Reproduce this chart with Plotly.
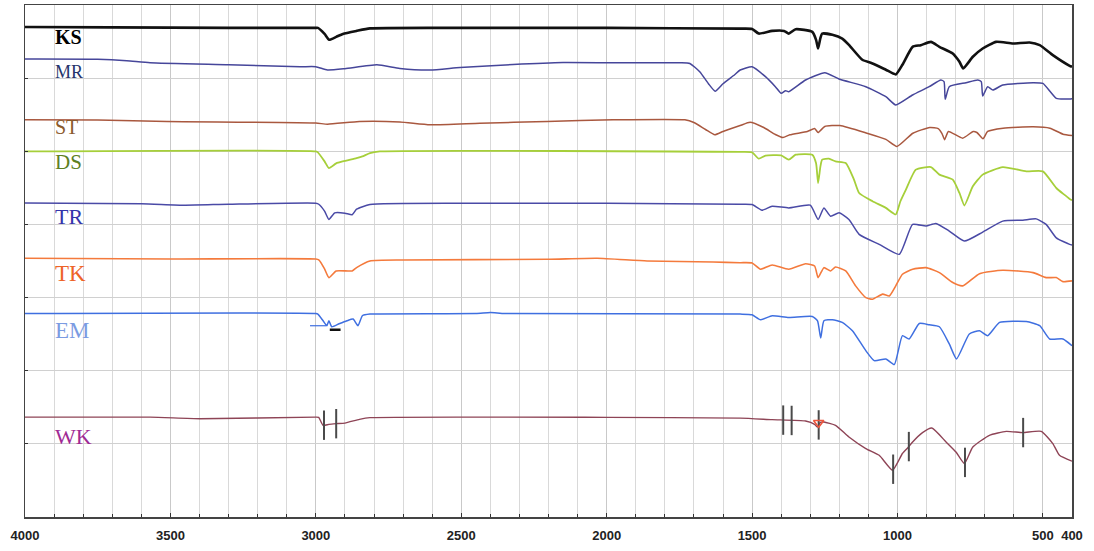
import numpy as np
import plotly.graph_objects as go

# ---- data (wavenumber cm-1, stacked transmittance in arbitrary units) ----
ks_wn = [4000, 3700, 3300, 3000, 2993, 2970, 2954, 2930, 2907, 2860, 2814, 2500, 2000, 1541, 1500, 1477, 1431, 1390, 1374, 1350, 1293, 1280, 1273, 1265, 1259, 1224, 1190, 1167, 1121, 1086, 1040, 1006, 983, 948, 920, 885, 856, 810, 787, 774, 741, 707, 661, 603, 546, 511, 466, 408, 400]
ks_val = [67.0, 66.94, 66.87, 66.87, 66.87, 66.05, 65.24, 65.64, 66.05, 66.46, 66.80, 66.87, 66.87, 66.77, 66.73, 66.09, 66.46, 66.46, 66.09, 66.69, 66.33, 65.24, 64.05, 65.51, 66.09, 65.92, 65.41, 64.55, 62.51, 62.01, 61.15, 60.51, 61.83, 64.28, 64.51, 64.96, 64.28, 63.37, 62.24, 61.33, 62.92, 64.05, 64.96, 64.73, 64.87, 64.51, 63.15, 61.69, 61.56]

mr_wn = [4000, 3750, 3650, 3570, 3300, 3054, 3000, 2960, 2900, 2790, 2711, 2607, 2504, 2322, 2150, 1978, 1748, 1714, 1680, 1650, 1627, 1600, 1560, 1541, 1500, 1454, 1420, 1400, 1385, 1374, 1316, 1250, 1201, 1109, 1040, 1006, 948, 891, 851, 840, 836, 822, 764, 724, 712, 707, 690, 672, 638, 534, 500, 454, 408, 400]
mr_val = [62.61, 62.58, 62.38, 62.10, 61.83, 61.56, 61.56, 61.11, 61.29, 61.83, 61.33, 61.11, 61.46, 61.87, 62.14, 62.10, 62.10, 62.01, 60.88, 59.24, 58.22, 59.24, 60.47, 61.11, 61.56, 60.20, 58.83, 57.92, 58.29, 58.15, 59.75, 60.74, 59.88, 58.83, 57.47, 56.34, 57.70, 58.83, 59.75, 59.52, 57.10, 58.83, 59.38, 59.75, 59.52, 57.57, 58.83, 58.38, 59.07, 59.38, 59.28, 57.24, 57.16, 57.20]

st_wn = [4000, 3750, 3512, 3000, 2960, 2850, 2711, 2607, 2436, 2205, 1978, 1731, 1700, 1660, 1628, 1600, 1541, 1507, 1460, 1420, 1394, 1370, 1310, 1285, 1273, 1250, 1198, 1105, 1040, 1002, 947, 889, 860, 847, 838, 825, 776, 740, 727, 706, 690, 637, 534, 476, 431, 400]
st_val = [54.30, 54.27, 54.07, 53.86, 53.70, 54.07, 54.00, 53.62, 53.84, 54.07, 54.30, 54.30, 53.93, 52.98, 52.26, 52.71, 53.52, 53.97, 53.25, 52.30, 51.89, 52.26, 52.71, 53.11, 52.57, 53.39, 53.52, 52.47, 51.62, 50.66, 52.47, 53.25, 53.11, 52.43, 51.58, 52.71, 51.79, 52.71, 52.57, 51.71, 52.71, 53.16, 53.35, 53.16, 52.34, 52.16]

ds_wn = [4000, 3000, 2993, 2970, 2955, 2930, 2907, 2860, 2840, 2814, 2780, 1541, 1500, 1477, 1454, 1400, 1374, 1350, 1293, 1280, 1273, 1265, 1259, 1236, 1213, 1178, 1150, 1132, 1086, 1040, 1006, 990, 971, 937, 885, 856, 810, 787, 770, 741, 707, 638, 557, 500, 454, 408, 400]
ds_val = [49.98, 49.98, 49.85, 48.62, 47.71, 48.35, 48.62, 49.07, 49.30, 49.75, 49.98, 49.91, 49.85, 48.99, 49.40, 49.44, 48.85, 49.53, 49.53, 48.35, 45.66, 47.94, 48.85, 48.99, 48.62, 48.39, 46.17, 44.30, 43.17, 42.26, 41.36, 43.17, 44.77, 47.49, 47.84, 46.81, 46.13, 44.30, 42.59, 45.21, 46.81, 47.84, 47.26, 47.26, 44.98, 43.49, 43.31]

tr_wn = [4000, 3600, 3450, 3300, 3000, 2990, 2970, 2955, 2935, 2900, 2875, 2860, 2814, 2500, 2000, 1541, 1500, 1466, 1431, 1374, 1300, 1273, 1253, 1230, 1201, 1167, 1132, 1063, 994, 948, 902, 868, 822, 770, 707, 638, 569, 523, 489, 454, 408, 400]
tr_val = [42.94, 42.83, 42.63, 42.76, 42.90, 42.76, 41.81, 40.68, 41.58, 41.54, 41.33, 42.08, 42.72, 42.90, 42.90, 42.76, 42.72, 41.95, 42.49, 42.26, 42.63, 40.68, 42.26, 41.13, 41.58, 40.68, 38.64, 37.27, 35.91, 40.00, 39.77, 40.14, 39.09, 37.72, 38.95, 40.45, 40.58, 40.76, 40.00, 38.17, 37.27, 37.18]

tk_wn = [4000, 3500, 3000, 2990, 2970, 2955, 2930, 2875, 2860, 2814, 2700, 2205, 2033, 1861, 1634, 1541, 1500, 1471, 1431, 1374, 1316, 1285, 1273, 1253, 1230, 1213, 1178, 1144, 1109, 1086, 1051, 1028, 1006, 983, 948, 902, 856, 810, 776, 718, 638, 534, 489, 454, 431, 400]
tk_val = [35.37, 35.27, 35.27, 35.14, 33.91, 32.73, 33.64, 33.64, 34.09, 35.00, 35.14, 35.23, 35.37, 35.00, 34.86, 34.77, 34.73, 33.87, 34.46, 33.87, 34.63, 34.32, 32.73, 34.09, 33.64, 34.18, 33.64, 31.60, 30.00, 29.78, 30.47, 30.23, 31.60, 33.19, 33.87, 34.09, 33.41, 32.05, 31.60, 33.27, 33.73, 33.41, 32.73, 32.73, 32.18, 32.28]

em_wn = [4000, 3000, 2993, 2975, 2962, 2955, 2945, 2920, 2893, 2872, 2855, 2840, 2814, 2450, 2400, 2350, 1541, 1500, 1471, 1431, 1374, 1293, 1275, 1264, 1253, 1224, 1190, 1155, 1109, 1080, 1040, 1011, 983, 960, 925, 891, 856, 822, 797, 753, 718, 690, 649, 557, 511, 477, 431, 400]
em_val = [27.82, 27.82, 27.74, 26.83, 26.15, 26.83, 26.01, 26.42, 26.83, 27.06, 26.15, 27.51, 27.74, 27.82, 27.96, 27.82, 27.74, 27.65, 26.97, 27.51, 27.28, 27.41, 26.83, 24.47, 26.83, 26.97, 26.60, 25.47, 22.74, 21.38, 21.61, 20.84, 24.79, 24.34, 26.46, 26.28, 26.01, 23.66, 21.61, 25.02, 25.47, 24.79, 26.60, 26.73, 26.15, 24.34, 24.34, 23.42]

wk_wn = [4000, 3570, 3398, 3000, 2990, 2975, 2955, 2930, 2900, 2850, 2814, 2000, 1541, 1431, 1316, 1285, 1276, 1265, 1253, 1213, 1167, 1109, 1063, 1017, 983, 963, 948, 914, 882, 833, 799, 770, 741, 684, 626, 569, 506, 466, 443, 400]
wk_val = [13.66, 13.66, 13.44, 13.66, 13.62, 12.53, 12.67, 12.76, 12.84, 13.35, 13.58, 13.62, 13.52, 13.31, 13.12, 12.67, 12.30, 12.94, 12.98, 12.53, 10.94, 9.36, 8.44, 6.40, 8.68, 9.53, 10.26, 11.54, 12.16, 10.26, 8.89, 7.31, 9.57, 11.17, 11.71, 11.54, 11.71, 10.04, 8.44, 7.63]

# peak-pick marks drawn on the WK trace
wk_peaks = [2972, 2930, 1393, 1364, 1271, 1015, 961, 768, 568]

# small stray segments near the EM C-H band
em_stray_wn = [3020, 2965]
em_stray_val = [26.15, 26.15]
em_black_wn = [2952, 2915]
em_black_val = [25.6, 25.6]

names = ["KS", "MR", "ST", "DS", "TR", "TK", "EM", "WK"]
label_y = [65.6, 60.9, 53.3, 48.55, 41.1, 33.3, 25.55, 11.0]
label_size = [20, 18, 20, 21, 22, 23, 23, 22]
label_color = ["#000000", "#26356b", "#8a5a2c", "#5e7f22", "#3434aa", "#ee6428", "#7b9be2", "#a02a94"]
line_color = ["#111111", "#46469a", "#a9583f", "#a6cf3a", "#4a4aa6", "#f47a3c", "#3f6fe0", "#8e4456"]
line_width = [2.6, 1.5, 1.5, 1.8, 1.5, 1.6, 1.5, 1.4]

series = [(ks_wn, ks_val), (mr_wn, mr_val), (st_wn, st_val), (ds_wn, ds_val),
          (tr_wn, tr_val), (tk_wn, tk_val), (em_wn, em_val), (wk_wn, wk_val)]

x_ticks = [4000, 3500, 3000, 2500, 2000, 1500, 1000, 500, 400]

fig = go.Figure()
for (wn, val), nm, c, w in zip(series, names, line_color, line_width):
    fig.add_trace(go.Scatter(x=wn, y=val, mode="lines", name=nm,
                             line=dict(color=c, width=w, shape="spline", smoothing=0.5),
                             showlegend=False))

fig.add_trace(go.Scatter(x=em_stray_wn, y=em_stray_val, mode="lines",
                         line=dict(color="#3f6fe0", width=1.2), showlegend=False))
fig.add_trace(go.Scatter(x=em_black_wn, y=em_black_val, mode="lines",
                         line=dict(color="#111111", width=2.5), showlegend=False))

wk_arr_x = np.array(wk_wn[::-1], dtype=float)
wk_arr_y = np.array(wk_val[::-1], dtype=float)
peak_y = np.interp(wk_peaks, wk_arr_x, wk_arr_y)
fig.add_trace(go.Scatter(x=wk_peaks, y=peak_y, mode="markers",
                         marker=dict(symbol="line-ns", size=21,
                                     line=dict(color="#4a4a4a", width=2)),
                         showlegend=False))
fig.add_trace(go.Scatter(x=[1271], y=[float(np.interp(1271, wk_arr_x, wk_arr_y)) + 0.3], mode="markers",
                         marker=dict(symbol="triangle-down-open", size=9,
                                     line=dict(color="#333333", width=1.5)),
                         showlegend=False))

for nm, ly, fs, fc in zip(names, label_y, label_size, label_color):
    fig.add_annotation(x=3905, y=ly, text=nm, showarrow=False, xanchor="left", yanchor="middle",
                       font=dict(family="Liberation Serif", size=fs, color=fc,
                                 weight="bold" if nm == "KS" else "normal"))

fig.update_layout(
    width=1094, height=551,
    margin=dict(l=25, r=22, t=3, b=34),
    paper_bgcolor="white", plot_bgcolor="white",
    hovermode=False,
    xaxis=dict(range=[4000, 400], tickvals=x_ticks, ticktext=[str(t) for t in x_ticks],
               tickfont=dict(family="Liberation Sans", size=13, color="#222", weight="bold"),
               ticklabelstandoff=6,
               showgrid=True, gridcolor="#c9c9c9", gridwidth=1,
               ticks="inside", ticklen=4, tickcolor="#333",
               minor=dict(dtick=100, showgrid=True, gridcolor="#d9d9d9", ticks="inside",
                          ticklen=3, tickcolor="#333"),
               showline=True, linecolor="#444", linewidth=1.5, mirror=True, zeroline=False),
    yaxis=dict(range=[0, 70], dtick=10, showticklabels=False, showgrid=True,
               gridcolor="#d0d0d0", gridwidth=1, ticks="inside", ticklen=3, tickcolor="#333",
               showline=True, linecolor="#444", linewidth=1.5, mirror=True, zeroline=False),
)

fig.write_html("out.html", config={"displayModeBar": False, "staticPlot": True},
               post_script="document.body.style.margin='0';document.body.style.overflow='hidden';")
